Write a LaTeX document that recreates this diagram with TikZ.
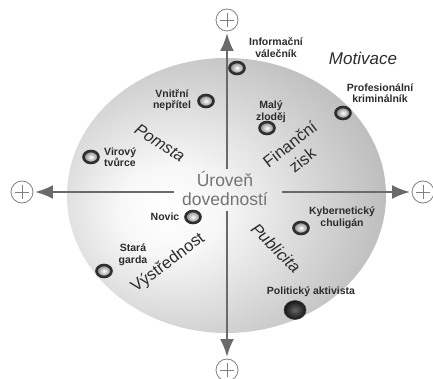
\documentclass[tikz,border=0pt]{standalone}
\usepackage{fontspec}
\setmainfont{Liberation Sans}
\usetikzlibrary{arrows.meta}
\usetikzlibrary{shapes.geometric}
\usetikzlibrary{positioning}
\definecolor{axisgray}{HTML}{6A6A6A}
\definecolor{txtgray}{HTML}{747474}
\definecolor{inkgray}{HTML}{2C2C2C}
\pgfdeclareradialshading{sphere}{\pgfpoint{-10bp}{-3bp}}{color(0bp)=(white); color(8bp)=(black!3); color(40bp)=(black!34); color(62bp)=(black!56); color(80bp)=(black!60)}

\begin{document}
\begin{tikzpicture}
	 [x=1pt, y=-1pt,
	> = {Latex[length=18pt,width=14pt]},
	axis/.style = {draw=axisgray, line width=2.6pt, ->, shorten >=1.5pt},
	pluscirc/.style = {circle, draw=axisgray!85, line width=0.8pt, minimum size=22pt, inner sep=0pt,
		path picture={\draw[axisgray!85, line width=0.8pt]
			([xshift=-7pt]path picture bounding box.center) -- ([xshift=7pt]path picture bounding box.center)
			([yshift=-7pt]path picture bounding box.center) -- ([yshift=7pt]path picture bounding box.center);}},
	actor/.style = {ellipse, draw=black!82, line width=2.6pt, inner color=white, outer color=black!50,
		minimum width=15pt, minimum height=12pt, inner sep=0pt},
	bigdot/.style = {ellipse, draw=black!75, line width=0.6pt, inner color=black!60, outer color=black!92,
		minimum width=22pt, minimum height=19pt, inner sep=0pt},
	lbl/.style = {font=\bfseries\fontsize{10.5}{11.5}\selectfont, text=inkgray, align=center, inner sep=0pt},
	motive/.style = {font=\fontsize{16.5}{19}\selectfont, text=inkgray, align=center, inner sep=0pt}
	]
	\useasboundingbox (0,0) rectangle (433,379);

	% sphere
	\shade[shading=sphere] (226.5,195.5) ellipse (159.5pt and 137.5pt);

	% level of skill in the middle, axes to the four plus signs
	\node[font=\fontsize{17.5}{19}\selectfont, text=txtgray, align=center, inner sep=2pt] (lvl) at (225,188) {Úroveň\\dovedností};
	\node[pluscirc] (pt) at (227,20) {};
	\node[pluscirc] (pb) at (227,370) {};
	\node[pluscirc] (pl) at (22,192) {};
	\node[pluscirc] (pr) at (423,192) {};
	\draw[axis] (lvl.north -| pt.center) -- (pt.south);
	\draw[axis, shorten <=4pt] (lvl.south -| pb.center) -- (pb.north);
	\draw[axis, shorten <=6pt] (lvl.west |- pl.center) -- (pl.east);
	\draw[axis, shorten <=12pt] (lvl.east |- pr.center) -- (pr.west);

	% motives
	\node[motive, font=\itshape\fontsize{17}{19}\selectfont] (motiv) at (363,58) {Motivace};
	\node[motive, font=\itshape\fontsize{16.5}{19}\selectfont, rotate=-33] (pomsta) at (160,143) {Pomsta};
	\node[motive, rotate=38, font=\fontsize{16.5}{20}\selectfont] (zisk) at (296,152) {Finanční\\zisk};
	\node[motive, rotate=37] (vystr) at (168,263) {Výstřednost};
	\node[motive, font=\itshape\fontsize{16.5}{19}\selectfont, rotate=-45] (publ) at (276,248) {Publicita};

	% attackers
	\node[actor] (dInfo) at (237,68) {};
	\node[lbl] (tInfo) at (276,47.5) {Informační\\válečník};
	\node[actor] (dProf) at (343,113) {};
	\node[lbl] (tProf) at (380,93) {Profesionální\\kriminálník};
	\node[actor] (dMaly) at (267,128) {};
	\node[lbl] (tMaly) at (271,111.5) {Malý\\zloděj};
	\node[actor] (dVnit) at (206,101) {};
	\node[lbl] (tVnit) at (172,100) {Vnitřní\\nepřítel};
	\node[actor] (dVir) at (91,157) {};
	\node[lbl, align=left, anchor=west] (tVir) at (104,157) {Virový\\tvůrce};
	\node[actor] (dNov) at (193,217) {};
	\node[lbl] (tNov) at (165,217) {Novic};
	\node[actor] (dStar) at (104,271) {};
	\node[lbl] (tStar) at (133,255) {Stará\\garda};
	\node[actor] (dKyb) at (301,228) {};
	\node[lbl] (tKyb) at (342,218) {Kybernetický\\chuligán};
	\node[bigdot] (dPol) at (295,310) {};
	\node[lbl] (tPol) at (311,292) {Politický aktivista};
\end{tikzpicture}
\end{document}
